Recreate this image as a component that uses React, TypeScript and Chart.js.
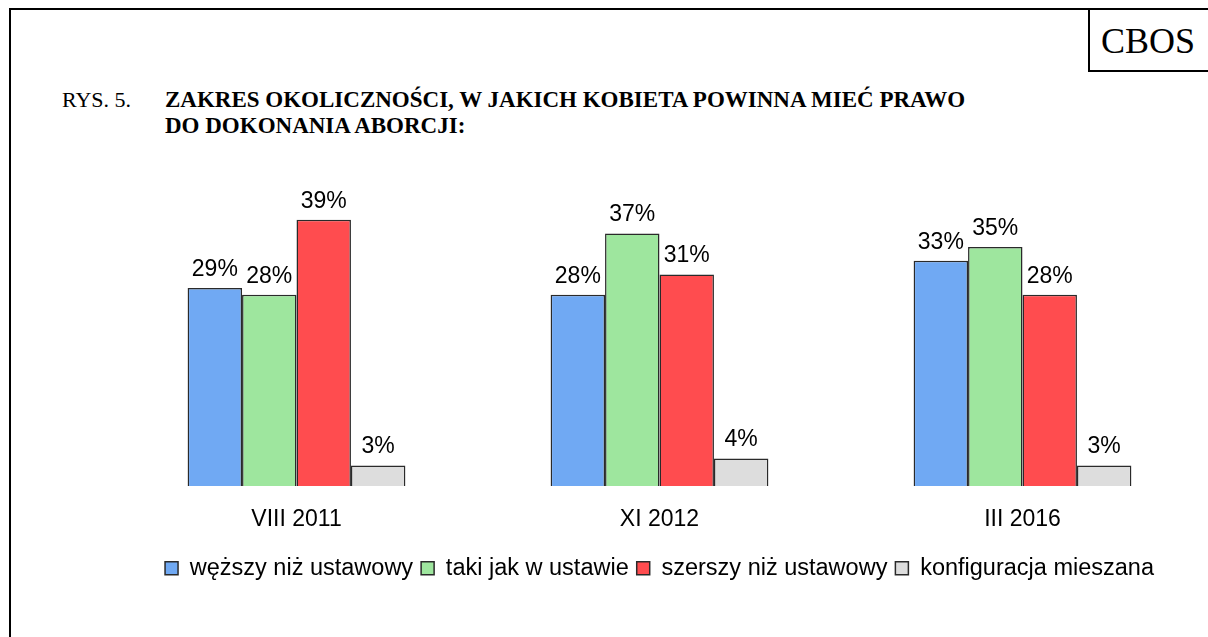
import React, { useEffect, useRef } from "react";
import { Chart, registerables } from "chart.js";

Chart.register(...registerables);

const categories = ["VIII 2011", "XI 2012", "III 2016"];
const seriesNames = ["węższy niż ustawowy", "taki jak w ustawie", "szerszy niż ustawowy", "konfiguracja mieszana"];
const narrower = [29, 28, 33];
const asInLaw = [28, 37, 35];
const broader = [39, 31, 28];
const mixed = [3, 4, 3];
const seriesColors = ["#70a9f3", "#9ee69e", "#ff4c4f", "#dddddd"];

const FONT = "'Liberation Sans', Arial, sans-serif";

const valueLabels = {
  id: "valueLabels",
  afterDatasetsDraw(chart: any) {
    const ctx = chart.ctx;
    ctx.save();
    ctx.font = "23px " + FONT;
    ctx.fillStyle = "#000";
    ctx.textAlign = "center";
    ctx.textBaseline = "bottom";
    chart.data.datasets.forEach((ds: any, i: number) => {
      const meta = chart.getDatasetMeta(i);
      meta.data.forEach((bar: any, j: number) => {
        ctx.fillText(ds.data[j] + "%", bar.x, bar.y - 7);
      });
    });
    ctx.restore();
  },
};

export default function App() {
  const ref = useRef<HTMLCanvasElement>(null);
  useEffect(() => {
    const all = [narrower, asInLaw, broader, mixed];
    const chart = new Chart(ref.current!, {
      type: "bar",
      data: {
        labels: categories,
        datasets: all.map((d, i) => ({
          label: seriesNames[i],
          data: d,
          backgroundColor: seriesColors[i],
          borderColor: "#2a2a2a",
          borderWidth: 1.5,
          categoryPercentage: 0.6,
          barPercentage: 1,
        })),
      },
      options: {
        animation: false,
        responsive: false,
        maintainAspectRatio: false,
        layout: { padding: { left: 115, right: 4, top: 213, bottom: 47 } },
        scales: {
          x: {
            grid: { display: false },
            border: { display: false },
            afterFit: (scale: any) => {
              scale.height = scale.height + 3;
            },
            ticks: {
              color: "#000",
              padding: 12,
              font: { family: FONT, size: 23 },
            },
          },
          y: { display: false, min: 0, max: 40 },
        },
        plugins: {
          legend: {
            position: "bottom",
            labels: {
              boxWidth: 13,
              boxHeight: 13,
              padding: 8,
              color: "#000",
              font: { family: FONT, size: 23.5 },
            },
          },
          tooltip: { enabled: false },
        },
      },
      plugins: [valueLabels],
    });
    return () => chart.destroy();
  }, []);

  const serif = "'Liberation Serif', 'Times New Roman', serif";
  return (
    <div style={{ position: "absolute", left: 0, top: 0, width: 1208, height: 637, background: "#fff", overflow: "hidden" }}>
      <div style={{ position: "absolute", left: 9, top: 8, width: 1199, height: 2, background: "#000" }} />
      <div style={{ position: "absolute", left: 9, top: 8, width: 2, height: 629, background: "#000" }} />
      <div style={{ position: "absolute", left: 1088, top: 8, width: 2, height: 64, background: "#000" }} />
      <div style={{ position: "absolute", left: 1088, top: 70, width: 120, height: 2, background: "#000" }} />
      <div style={{ position: "absolute", left: 1090, top: 10, width: 116, height: 62, display: "flex", alignItems: "center", justifyContent: "center", fontFamily: serif, fontSize: 36 }}>CBOS</div>
      <div style={{ position: "absolute", left: 62, top: 87, fontFamily: serif, fontSize: 22, lineHeight: "26px" }}>RYS. 5.</div>
      <div style={{ position: "absolute", left: 165, top: 87, fontFamily: serif, fontSize: 23, fontWeight: "bold", lineHeight: "26px" }}>
        ZAKRES OKOLICZNOŚCI, W JAKICH KOBIETA POWINNA MIEĆ PRAWO<br />DO DOKONANIA ABORCJI:
      </div>
      <canvas ref={ref} width={1208} height={637} style={{ position: "absolute", left: 0, top: 0, width: 1208, height: 637 }} />
    </div>
  );
}
